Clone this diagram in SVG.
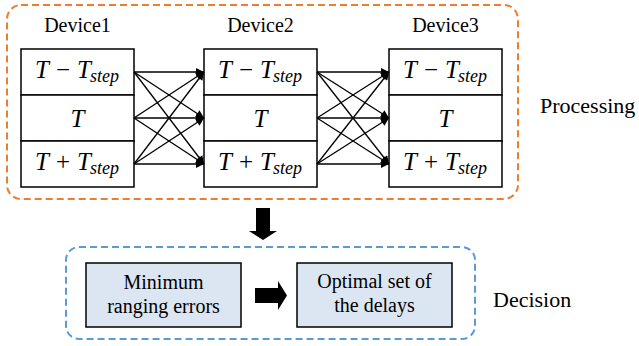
<svg xmlns="http://www.w3.org/2000/svg" width="639" height="346" viewBox="0 0 639 346">
<style>
.lbl{font-size:20px;fill:#000}
.side{font-size:22px;fill:#000}
.m{font-size:25px;font-style:italic;fill:#000}
.op{font-style:normal}
.sub{font-size:18px}
.cell{fill:#fff;stroke:#000;stroke-width:1.5}
.dbox{fill:#dce6f2;stroke:#000;stroke-width:1.5}
.conn line{stroke:#000;stroke-width:1.3;marker-end:url(#ah)}
</style>
<defs>
<marker id="ah" viewBox="0 0 10 10" refX="10" refY="5" markerWidth="9" markerHeight="8" markerUnits="userSpaceOnUse" orient="auto">
<path d="M0,0 L10,5 L0,10 z" fill="#000"/>
</marker>
</defs>
<rect x="7" y="5" width="511" height="194" rx="14" fill="none" stroke="#ED7D31" stroke-width="2" stroke-dasharray="7,4"/>
<rect x="66" y="247" width="409" height="92" rx="13" fill="none" stroke="#5B9BD5" stroke-width="2" stroke-dasharray="7,4"/>
<g font-family="Liberation Serif, Times New Roman, Times, Noto Serif, FreeSerif, serif">
<text class="side" x="540" y="113">Processing</text>
<text class="side" x="493" y="307">Decision</text>
<g id="device1">
<text class="lbl" x="77.5" y="32" text-anchor="middle">Device1</text>
<rect class="cell" x="21" y="49" width="113" height="46"/>
<rect class="cell" x="21" y="95" width="113" height="46"/>
<rect class="cell" x="21" y="141" width="113" height="46"/>
<text class="m" y="78"><tspan x="35">T</tspan><tspan class="op" x="56">−</tspan><tspan x="77">T</tspan><tspan class="sub" x="90" dy="4">step</tspan></text>
<text class="m" x="77.5" y="127" text-anchor="middle">T</text>
<text class="m" y="170"><tspan x="35">T</tspan><tspan class="op" x="56">+</tspan><tspan x="77">T</tspan><tspan class="sub" x="90" dy="4">step</tspan></text>
</g>
<g id="device2">
<text class="lbl" x="260.5" y="32" text-anchor="middle">Device2</text>
<rect class="cell" x="204" y="49" width="113" height="46"/>
<rect class="cell" x="204" y="95" width="113" height="46"/>
<rect class="cell" x="204" y="141" width="113" height="46"/>
<text class="m" y="78"><tspan x="218">T</tspan><tspan class="op" x="239">−</tspan><tspan x="260">T</tspan><tspan class="sub" x="273" dy="4">step</tspan></text>
<text class="m" x="260.5" y="127" text-anchor="middle">T</text>
<text class="m" y="170"><tspan x="218">T</tspan><tspan class="op" x="239">+</tspan><tspan x="260">T</tspan><tspan class="sub" x="273" dy="4">step</tspan></text>
</g>
<g id="device3">
<text class="lbl" x="445.5" y="32" text-anchor="middle">Device3</text>
<rect class="cell" x="389" y="49" width="113" height="46"/>
<rect class="cell" x="389" y="95" width="113" height="46"/>
<rect class="cell" x="389" y="141" width="113" height="46"/>
<text class="m" y="78"><tspan x="403">T</tspan><tspan class="op" x="424">−</tspan><tspan x="445">T</tspan><tspan class="sub" x="458" dy="4">step</tspan></text>
<text class="m" x="445.5" y="127" text-anchor="middle">T</text>
<text class="m" y="170"><tspan x="403">T</tspan><tspan class="op" x="424">+</tspan><tspan x="445">T</tspan><tspan class="sub" x="458" dy="4">step</tspan></text>
</g>
<g id="minerr">
<rect class="dbox" x="86" y="263" width="155" height="64"/>
<text class="lbl" x="163.5" y="289" text-anchor="middle">Minimum</text>
<text class="lbl" x="163.5" y="313" text-anchor="middle">ranging errors</text>
</g>
<g id="optset">
<rect class="dbox" x="297" y="263" width="155" height="64"/>
<text class="lbl" x="374.5" y="288" text-anchor="middle">Optimal set of</text>
<text class="lbl" x="374.5" y="312" text-anchor="middle">the delays</text>
</g>
</g>
<g id="connectors">
<g class="conn">
<line x1="134" y1="72" x2="204" y2="72"/>
<line x1="134" y1="72" x2="204" y2="118"/>
<line x1="134" y1="72" x2="204" y2="164"/>
<line x1="134" y1="118" x2="204" y2="72"/>
<line x1="134" y1="118" x2="204" y2="118"/>
<line x1="134" y1="118" x2="204" y2="164"/>
<line x1="134" y1="164" x2="204" y2="72"/>
<line x1="134" y1="164" x2="204" y2="118"/>
<line x1="134" y1="164" x2="204" y2="164"/>
<line x1="317" y1="72" x2="389" y2="72"/>
<line x1="317" y1="72" x2="389" y2="118"/>
<line x1="317" y1="72" x2="389" y2="164"/>
<line x1="317" y1="118" x2="389" y2="72"/>
<line x1="317" y1="118" x2="389" y2="118"/>
<line x1="317" y1="118" x2="389" y2="164"/>
<line x1="317" y1="164" x2="389" y2="72"/>
<line x1="317" y1="164" x2="389" y2="118"/>
<line x1="317" y1="164" x2="389" y2="164"/>
</g>
<polygon points="256,208 270,208 270,231 277,231 263,240 249,231 256,231" fill="#000"/>
<polygon points="255,288 278,288 278,281 287,295.5 278,310 278,303 255,303" fill="#000"/>
</g>
</svg>
